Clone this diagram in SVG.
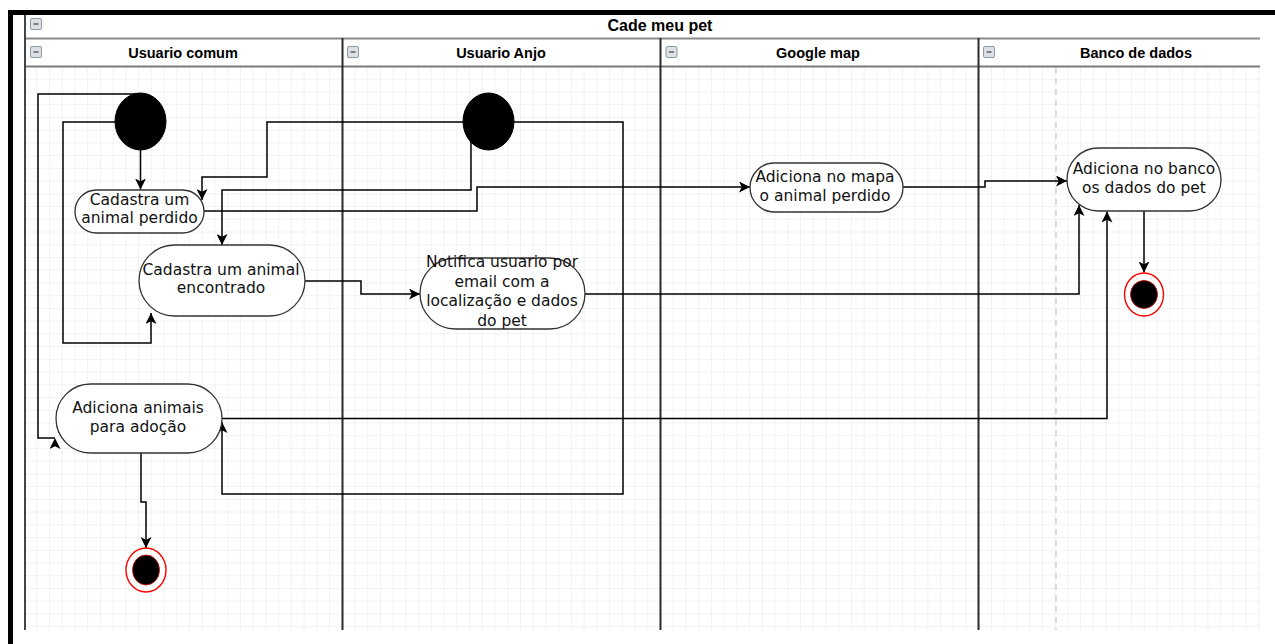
<svg xmlns="http://www.w3.org/2000/svg" width="1275" height="644" viewBox="0 0 1275 644">
<defs>
<pattern id="grid" width="12.73" height="12.73" patternUnits="userSpaceOnUse" x="24.5" y="67">
<path d="M12.73,0 V12.73 M0,12.73 H12.73" fill="none" stroke="#e6e6e6" stroke-width="1"/>
</pattern>
<marker id="arr" markerUnits="userSpaceOnUse" markerWidth="11" markerHeight="11" refX="10" refY="5" orient="auto" viewBox="0 0 10 10">
<path d="M0,0 L10,5 L0,10 L2.5,5 z" fill="#000"/>
</marker>
<marker id="arrUp" markerUnits="userSpaceOnUse" markerWidth="11" markerHeight="11" refX="10" refY="5" orient="-90" viewBox="0 0 10 10">
<path d="M0,0 L10,5 L0,10 L2.5,5 z" fill="#000"/>
</marker>
</defs>
<style>
.title{font-family:"Liberation Sans",Arial,sans-serif;font-weight:bold;font-size:16px;fill:#000;text-anchor:middle}
.lane{font-family:"Liberation Sans",Arial,sans-serif;font-weight:bold;font-size:14.5px;fill:#000;text-anchor:middle}
.lbl{font-family:"DejaVu Sans",sans-serif;font-size:15.5px;fill:#111;text-anchor:middle}
.node{fill:#fff;stroke:#333;stroke-width:1.3}
.edge{fill:none;stroke:#000;stroke-width:1.5;marker-end:url(#arr)}
.icon{fill:#dde1e5;stroke:#8f99a3;stroke-width:1}
.minus{stroke:#5f6870;stroke-width:1.6}
.div{stroke:#2b2b2b;stroke-width:2}
.start{fill:#000;stroke:#000;stroke-width:1}
.endo{fill:#fff;stroke:#ff0000;stroke-width:1.4}
.endi{fill:#000;stroke:#d00000;stroke-width:0.8}
</style>
<rect x="0" y="0" width="1275" height="644" fill="#fff"/>
<g id="pool">
<rect x="25" y="15" width="1235" height="615" fill="#fff"/>
<rect x="25" y="67" width="1235" height="563" fill="url(#grid)"/>
<line x1="1056" y1="67" x2="1056" y2="630" stroke="#bdbdbd" stroke-width="1" stroke-dasharray="6 5"/>
<line x1="25" y1="38.5" x2="1260" y2="38.5" stroke="#8a8a8a" stroke-width="2"/>
<line x1="25" y1="66.5" x2="1260" y2="66.5" stroke="#7a7a7a" stroke-width="2"/>
<line x1="25" y1="15" x2="25" y2="630" stroke="#444" stroke-width="2"/>
<line class="div" x1="342.5" y1="38" x2="342.5" y2="630"/>
<line class="div" x1="660.5" y1="38" x2="660.5" y2="630"/>
<line class="div" x1="978.5" y1="38" x2="978.5" y2="630"/>
<rect class="icon" x="30.5" y="18.5" width="11" height="11" rx="1.5"/><line class="minus" x1="33.5" y1="24" x2="38.5" y2="24"/>
<text class="title" x="660" y="31">Cade meu pet</text>
</g>
<g id="lane-usuario-comum">
<rect class="icon" x="30.5" y="46.5" width="11" height="11" rx="1.5"/><line class="minus" x1="33.5" y1="52" x2="38.5" y2="52"/>
<text class="lane" x="183" y="58">Usuario comum</text>
</g>
<g id="lane-usuario-anjo">
<rect class="icon" x="347.5" y="46.5" width="11" height="11" rx="1.5"/><line class="minus" x1="350.5" y1="52" x2="355.5" y2="52"/>
<text class="lane" x="501" y="58">Usuario Anjo</text>
</g>
<g id="lane-google-map">
<rect class="icon" x="666" y="46.5" width="11" height="11" rx="1.5"/><line class="minus" x1="669" y1="52" x2="674" y2="52"/>
<text class="lane" x="818" y="58">Google map</text>
</g>
<g id="lane-banco-de-dados">
<rect class="icon" x="983.5" y="46.5" width="11" height="11" rx="1.5"/><line class="minus" x1="986.5" y1="52" x2="991.5" y2="52"/>
<text class="lane" x="1136" y="58">Banco de dados</text>
</g>
<g id="connectors">
<path class="edge" d="M140.5,150 V189.5"/>
<path class="edge" d="M140.5,94 H38 V438 H55" style="marker-end:url(#arrUp)"/>
<path class="edge" d="M115,122 H63 V343 H151 V313"/>
<path class="edge" d="M463,122 H267 V177 H202 V200"/>
<path class="edge" d="M471,142 V190 H222 V245"/>
<path class="edge" d="M204,211 H477 V187 H750"/>
<path class="edge" d="M903,187 H985 V181 H1067"/>
<path class="edge" d="M305,281 H361 V294 H420"/>
<path class="edge" d="M585,294 H1079 V205"/>
<path class="edge" d="M514,122 H623 V494 H222 V422"/>
<path class="edge" d="M222,418.5 H1107 V211.5"/>
<path class="edge" d="M1144,211 V272.5"/>
<path class="edge" d="M141,453 V502 H146 V548"/>
</g>
<g id="start-comum"><ellipse class="start" cx="140.5" cy="121.5" rx="25.5" ry="28.5"/></g>
<g id="start-anjo"><ellipse class="start" cx="488.5" cy="121.5" rx="25.5" ry="28.5"/></g>
<g id="cadastra-perdido">
<rect class="node" x="75" y="190" width="129" height="43" rx="21.5"/>
<text class="lbl" x="139.5" y="205">Cadastra um</text>
<text class="lbl" x="139.5" y="222.5">animal perdido</text>
</g>
<g id="cadastra-encontrado">
<rect class="node" x="139" y="245" width="166" height="71" rx="35.5"/>
<text class="lbl" x="221" y="275">Cadastra um animal</text>
<text class="lbl" x="221" y="293">encontrado</text>
</g>
<g id="notifica">
<rect class="node" x="420" y="258" width="165" height="71" rx="35.5"/>
<text class="lbl" x="502" y="267">Notifica usuario por</text>
<text class="lbl" x="502" y="286.5">email com a</text>
<text class="lbl" x="502" y="306">localização e dados</text>
<text class="lbl" x="502" y="325.5">do pet</text>
</g>
<g id="adiciona-mapa">
<rect class="node" x="750" y="163" width="153" height="49" rx="24.5"/>
<text class="lbl" x="825" y="181.5">Adiciona no mapa</text>
<text class="lbl" x="825" y="200.5">o animal perdido</text>
</g>
<g id="adiciona-banco">
<rect class="node" x="1067" y="148" width="154" height="63" rx="31.5"/>
<text class="lbl" x="1144" y="173.5">Adiciona no banco</text>
<text class="lbl" x="1144" y="192.5">os dados do pet</text>
</g>
<g id="adiciona-adocao">
<rect class="node" x="56" y="384" width="166" height="69" rx="34.5"/>
<text class="lbl" x="138" y="412.5">Adiciona animais</text>
<text class="lbl" x="138" y="431.5">para adoção</text>
</g>
<g id="end-banco">
<ellipse class="endo" cx="1144" cy="294.5" rx="19.5" ry="21.5"/>
<ellipse class="endi" cx="1144" cy="294.5" rx="13.5" ry="14"/>
</g>
<g id="end-comum">
<ellipse class="endo" cx="146" cy="570" rx="20" ry="22"/>
<ellipse class="endi" cx="146" cy="570" rx="13.5" ry="15"/>
</g>
<g id="window-frame">
<path d="M10.5,644 V12.5 H1275" fill="none" stroke="#000" stroke-width="5"/>
</g>
</svg>
